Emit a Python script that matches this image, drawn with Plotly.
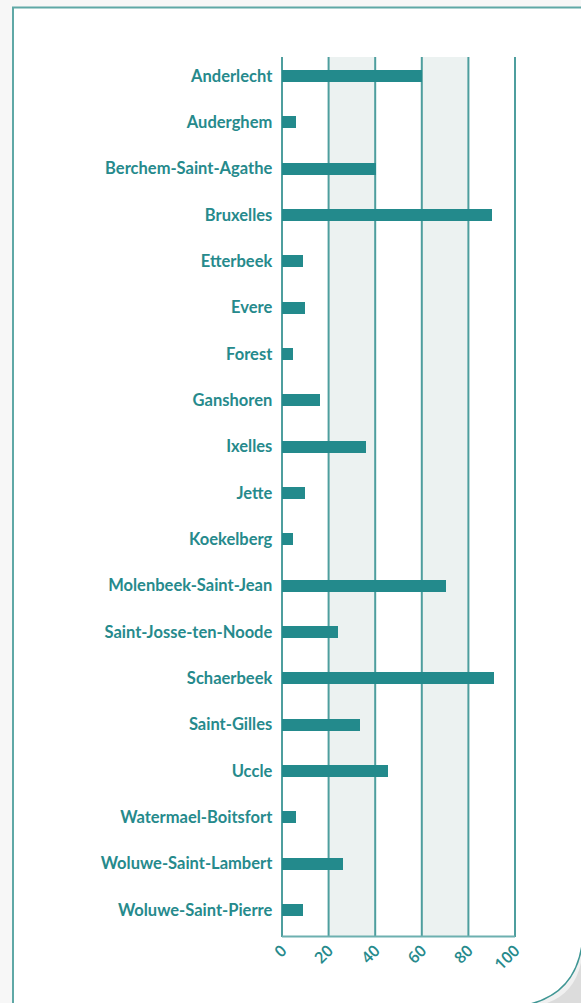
import plotly.graph_objects as go

# Communes of the Brussels-Capital Region and their values
communes = [
    "Anderlecht", "Auderghem", "Berchem-Saint-Agathe", "Bruxelles", "Etterbeek",
    "Evere", "Forest", "Ganshoren", "Ixelles", "Jette", "Koekelberg",
    "Molenbeek-Saint-Jean", "Saint-Josse-ten-Noode", "Schaerbeek", "Saint-Gilles",
    "Uccle", "Watermael-Boitsfort", "Woluwe-Saint-Lambert", "Woluwe-Saint-Pierre",
]
values = [60, 6, 40, 90, 9, 9.5, 4.5, 16, 36, 9.5, 4.5, 70, 24, 91, 33.5, 45.5, 6, 26, 9]

x_ticks = [0, 20, 40, 60, 80, 100]
shaded_bands = [(20, 40), (60, 80)]

W, H = 581, 1003
TEAL = "#268A8C"
BAR = "#238A8C"
GRID = "#4E9E9E"
BAND = "#ECF2F1"


def px(x):
    return x / W


def py(y):
    return 1 - y / H


fig = go.Figure(
    go.Bar(
        x=values,
        y=communes,
        orientation="h",
        marker=dict(color=BAR, line=dict(width=0)),
        width=0.26,
        hoverinfo="x+y",
    )
)

shapes = []
# page background and framed card
shapes.append(dict(type="rect", xref="paper", yref="paper", x0=0, x1=1, y0=0, y1=1,
                   fillcolor="#F7F7F7", line=dict(width=0), layer="below"))
shapes.append(dict(type="rect", xref="paper", yref="paper",
                   x0=px(13), x1=px(W + 20), y0=py(H + 20), y1=py(7.5),
                   fillcolor="white", line=dict(color="#5FA8A6", width=2), layer="below"))

# shaded bands between gridlines
for a, b in shaded_bands:
    shapes.append(dict(type="rect", xref="x", yref="paper", x0=a, x1=b, y0=py(937), y1=py(57),
                       fillcolor=BAND, line=dict(width=0), layer="below"))
# vertical gridlines
for t in x_ticks:
    shapes.append(dict(type="line", xref="x", yref="paper", x0=t, x1=t, y0=py(937), y1=py(57),
                       line=dict(color=GRID, width=2), layer="below"))
# bottom axis line
shapes.append(dict(type="line", xref="x", yref="paper", x0=0, x1=100, y0=py(936.5), y1=py(936.5),
                   line=dict(color="#6DB0B0", width=2), layer="below"))

# page curl in the lower right corner
curl = f"M {px(W + 2)},{py(936)} Q {px(579)},{py(994)} {px(526)},{py(H + 2)} L {px(W + 2)},{py(H + 2)} Z"
shapes.append(dict(type="path", xref="paper", yref="paper", path=curl,
                   fillcolor="#F0F0F0", line=dict(width=0), layer="above"))
shade = f"M {px(W + 2)},{py(948)} Q {px(580)},{py(996)} {px(540)},{py(H + 2)} L {px(W + 2)},{py(H + 2)} Z"
shapes.append(dict(type="path", xref="paper", yref="paper", path=shade,
                   fillcolor="#DCDCDC", line=dict(width=0), layer="above"))
edge = f"M {px(W + 2)},{py(936)} Q {px(579)},{py(994)} {px(526)},{py(H + 2)}"
shapes.append(dict(type="path", xref="paper", yref="paper", path=edge,
                   line=dict(color="#3F9694", width=1.5), layer="above"))

fig.update_layout(
    width=W,
    height=H,
    margin=dict(l=0, r=0, t=0, b=0),
    paper_bgcolor="white",
    plot_bgcolor="rgba(0,0,0,0)",
    showlegend=False,
    shapes=shapes,
    bargap=0,
    xaxis=dict(
        domain=[px(282 - 1.4), px(515 + 1.4)],
        range=[-0.6, 100.6],
        tickvals=x_ticks,
        ticktext=[str(t) for t in x_ticks],
        tickangle=-45,
        showgrid=False,
        zeroline=False,
        showline=False,
        ticks="",
        tickfont=dict(family="Open Sans", size=16, color=TEAL, weight=600),
        automargin=False,
        fixedrange=True,
    ),
    yaxis=dict(
        domain=[py(937), py(57)],
        type="category",
        categoryorder="array",
        categoryarray=communes,
        range=[18.583, -0.41],
        showgrid=False,
        zeroline=False,
        showline=False,
        ticks="outside",
        ticklen=4,
        tickcolor="rgba(0,0,0,0)",
        tickfont=dict(family="Lato", size=16.5, color=TEAL, weight="bold"),
        automargin=False,
        fixedrange=True,
    ),
)

fig.write_html("out.html")
